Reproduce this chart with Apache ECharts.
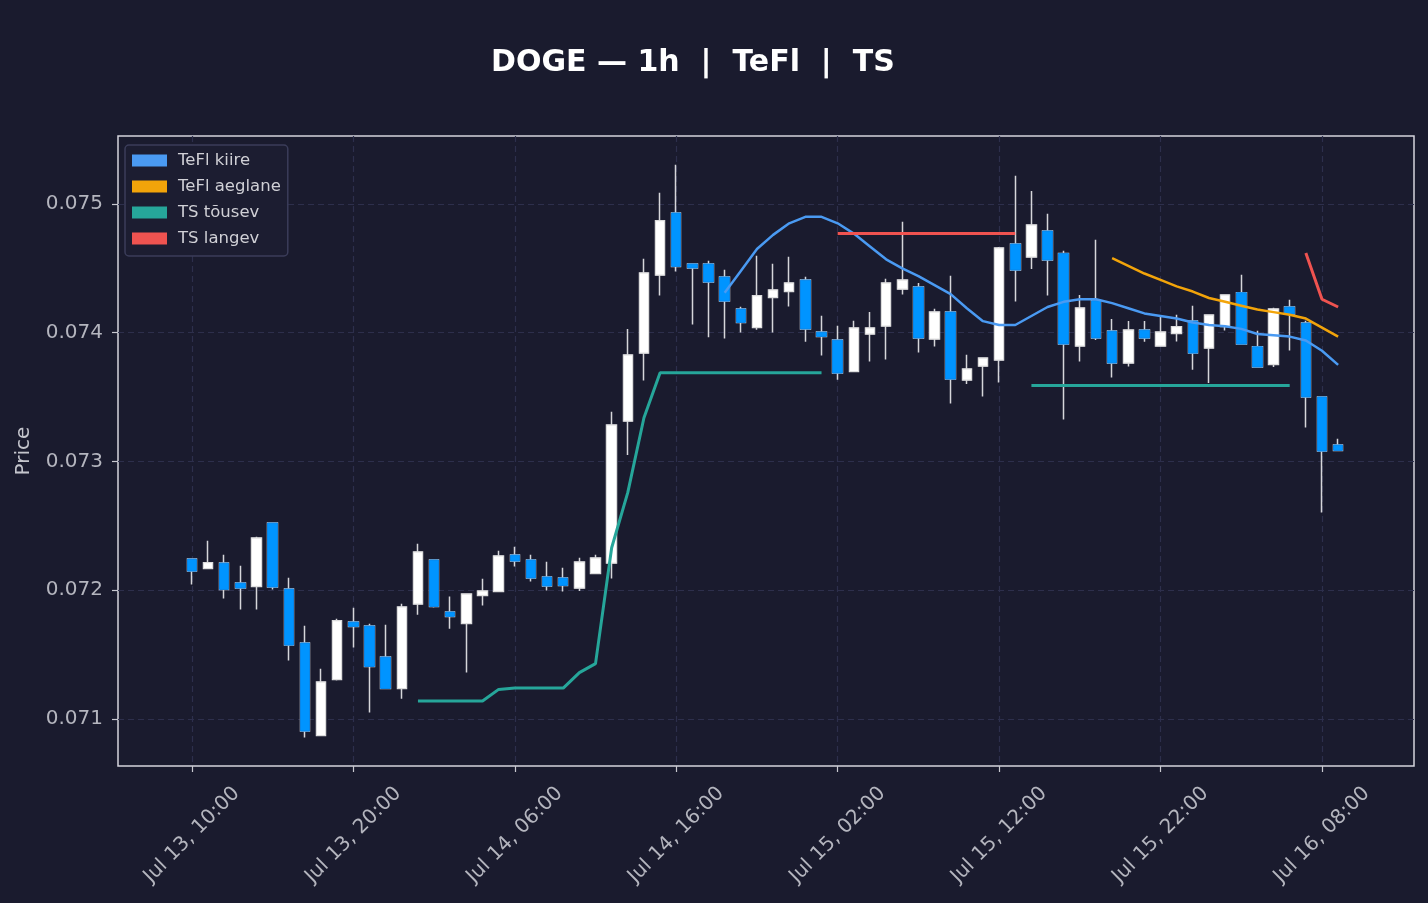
<!DOCTYPE html>
<html>
<head>
<meta charset="utf-8">
<title>DOGE 1h - TeFl / TS</title>
<script src="https://cdn.jsdelivr.net/npm/echarts@6/dist/echarts.min.js"></script>
<style>
  html, body { margin: 0; padding: 0; background: #1a1b2e; }
  #chart { width: 1428px; height: 903px; }
</style>
</head>
<body>
<div id="chart"></div>
<script>
// one candle per hour, hour 0 = Jul 13 10:00
const open = [
  0.072242, 0.072169, 0.072211, 0.072056, 0.072030, 0.072522, 0.072009, 0.071590, 0.070872, 0.071307,
  0.071753, 0.071722, 0.071481, 0.071237, 0.071893, 0.072235, 0.071831, 0.071742, 0.071960, 0.071991,
  0.072273, 0.072235, 0.072103, 0.072095, 0.072017, 0.072130, 0.072211, 0.073314, 0.073842, 0.074448,
  0.074930, 0.074534, 0.074534, 0.074433, 0.074184, 0.074041, 0.074274, 0.074321, 0.074409, 0.074005,
  0.073943, 0.073699, 0.073990, 0.074052, 0.074339, 0.074355, 0.073951, 0.074161, 0.073633, 0.073741,
  0.073788, 0.074689, 0.074588, 0.074790, 0.074616, 0.073897, 0.074249, 0.074013, 0.073765, 0.074021,
  0.073897, 0.073995, 0.074091, 0.073881, 0.074049, 0.074311, 0.073891, 0.073754, 0.074200, 0.074075,
  0.073501, 0.073128
];
const close = [
  0.072149, 0.072214, 0.072006, 0.072017, 0.072405, 0.072025, 0.071574, 0.070906, 0.071287, 0.071763,
  0.071719, 0.071408, 0.071237, 0.071870, 0.072297, 0.071874, 0.071797, 0.071970, 0.071994, 0.072266,
  0.072227, 0.072095, 0.072033, 0.072037, 0.072219, 0.072250, 0.073283, 0.073827, 0.074464, 0.074870,
  0.074515, 0.074503, 0.074394, 0.074246, 0.074080, 0.074287, 0.074332, 0.074386, 0.074029, 0.073971,
  0.073687, 0.074037, 0.074037, 0.074386, 0.074409, 0.073959, 0.074161, 0.073640, 0.073718, 0.073803,
  0.074658, 0.074487, 0.074837, 0.074565, 0.073912, 0.074192, 0.073959, 0.073765, 0.074021, 0.073959,
  0.074005, 0.074047, 0.073842, 0.074137, 0.074293, 0.073912, 0.073734, 0.074184, 0.074145, 0.073501,
  0.073081, 0.073086
];
const low = [
  0.072045, 0.072169, 0.071936, 0.071851, 0.071851, 0.072006, 0.071455, 0.070857, 0.070872, 0.071299,
  0.071556, 0.071051, 0.071237, 0.071157, 0.071810, 0.071866, 0.071701, 0.071362, 0.071882, 0.071991,
  0.072185, 0.072068, 0.071998, 0.071991, 0.071994, 0.072130, 0.072092, 0.073050, 0.073630, 0.074290,
  0.074476, 0.074064, 0.073965, 0.073956, 0.074002, 0.074023, 0.074002, 0.074204, 0.073930, 0.073824,
  0.073635, 0.073699, 0.073777, 0.073793, 0.074297, 0.073847, 0.073894, 0.073451, 0.073602, 0.073505,
  0.073614, 0.074243, 0.074495, 0.074290, 0.073327, 0.073777, 0.073943, 0.073653, 0.073738, 0.073930,
  0.073897, 0.073932, 0.073713, 0.073609, 0.074018, 0.073912, 0.073734, 0.073734, 0.073863, 0.073264,
  0.072604, 0.073086
];
const high = [
  0.072247, 0.072384, 0.072276, 0.072190, 0.072416, 0.072522, 0.072097, 0.071724, 0.071390, 0.071779,
  0.071864, 0.071740, 0.071732, 0.071895, 0.072361, 0.072235, 0.071952, 0.071970, 0.072089, 0.072307,
  0.072338, 0.072276, 0.072221, 0.072175, 0.072252, 0.072276, 0.073386, 0.074029, 0.074575, 0.075087,
  0.075305, 0.074534, 0.074559, 0.074489, 0.074202, 0.074598, 0.074536, 0.074590, 0.074435, 0.074132,
  0.074054, 0.074093, 0.074161, 0.074419, 0.074862, 0.074386, 0.074186, 0.074443, 0.073829, 0.073803,
  0.074666, 0.075219, 0.075101, 0.074924, 0.074637, 0.074293, 0.074722, 0.074106, 0.074091, 0.074091,
  0.074137, 0.074140, 0.074210, 0.074137, 0.074293, 0.074451, 0.074016, 0.074194, 0.074256, 0.074093,
  0.073501, 0.073177
];

// x ticks (hours from Jul 13 10:00) and their labels
const xTickHours = [0, 10, 20, 30, 40, 50, 60, 70];
const xTickLabels = ['Jul 13, 10:00', 'Jul 13, 20:00', 'Jul 14, 06:00', 'Jul 14, 16:00',
  'Jul 15, 02:00', 'Jul 15, 12:00', 'Jul 15, 22:00', 'Jul 16, 08:00'];
const yTicks = [0.071, 0.072, 0.073, 0.074, 0.075];

// TeFl lines
const kiireFrom = 33;
const kiire = [
  0.07431, 0.07448, 0.07465, 0.07476, 0.07485, 0.07490, 0.07490, 0.07485, 0.07477, 0.07467,
  0.07457, 0.07450, 0.07444, 0.07437, 0.07430, 0.07419, 0.07409, 0.07406, 0.07406, 0.07413,
  0.07420, 0.07424, 0.07426, 0.07426, 0.07423, 0.07419, 0.07415, 0.07413, 0.07411, 0.07408,
  0.07406, 0.07405, 0.07403, 0.07399, 0.07398, 0.07397, 0.07394, 0.07386, 0.07375
];
const aeglaneFrom = 57;
const aeglane = [
  0.07458, 0.07452, 0.07446, 0.07441, 0.07436, 0.07432, 0.07427, 0.07424, 0.07421, 0.07418,
  0.07416, 0.07414, 0.07411, 0.07404, 0.07397
];

// TS lines, two pieces each
const tousevAFrom = 14;
const tousevA = [
  0.07114, 0.07114, 0.07114, 0.07114, 0.07114, 0.07123, 0.07124, 0.07124, 0.07124, 0.07124,
  0.07136, 0.07143, 0.07233, 0.07276, 0.07334, 0.07369, 0.07369, 0.07369, 0.07369, 0.07369,
  0.07369, 0.07369, 0.07369, 0.07369, 0.07369, 0.07369
];
const tousevBFrom = 52;
const tousevB = [
  0.07359, 0.07359, 0.07359, 0.07359, 0.07359, 0.07359, 0.07359, 0.07359, 0.07359, 0.07359,
  0.07359, 0.07359, 0.07359, 0.07359, 0.07359, 0.07359, 0.07359
];
const langevAFrom = 40;
const langevA = [
  0.07477, 0.07477, 0.07477, 0.07477, 0.07477, 0.07477, 0.07477, 0.07477, 0.07477, 0.07477,
  0.07477, 0.07477
];
const langevBFrom = 69;
const langevB = [0.07462, 0.07426, 0.07420];

const upColor = '#ffffff';
const upBorder = '#dcdcdc';
const downColor = '#0094ff';
const downBorder = '#0a86e8';
const wickColor = '#d6d6da';
const axisTextColor = '#b4b5be';
const font = 'DejaVu Sans';

function segment(from, values) {
  return values.map((v, i) => [from + i, v]);
}
// join pieces with an empty point so the line breaks
function pieces(...segs) {
  let out = [];
  segs.forEach((s, k) => {
    if (k > 0) out.push([s[0][0] - 0.5, '-']);
    out = out.concat(s);
  });
  return out;
}

const wickData = open.map((o, i) => [i, o, close[i], low[i], high[i]]);
const bodyData = open.map((o, i) => [i, o, close[i], Math.min(o, close[i]), Math.max(o, close[i])]);

function lineSeries(name, color, width, data) {
  return {
    name: name,
    type: 'line',
    data: data,
    symbol: 'none',
    showSymbol: false,
    connectNulls: false,
    color: color,
    lineStyle: { color: color, width: width },
    z: 5
  };
}

const option = {
  backgroundColor: '#1a1b2e',
  animation: false,
  title: {
    text: 'DOGE — 1h  |  TeFl  |  TS',
    left: 486,
    top: 43,
    textStyle: { color: '#ffffff', fontSize: 30, fontWeight: 'bold', fontFamily: font }
  },
  legend: {
    data: ['TeFl kiire', 'TeFl aeglane', 'TS tõusev', 'TS langev'],
    orient: 'vertical',
    left: 125,
    top: 145,
    icon: 'rect',
    itemWidth: 35,
    itemHeight: 12,
    itemGap: 9,
    padding: [7, 7, 9, 7],
    backgroundColor: '#1c1d31',
    borderColor: '#3b3d5a',
    borderWidth: 1.5,
    borderRadius: 4,
    selectedMode: false,
    textStyle: { color: '#d0d0d6', fontSize: 16.5, fontFamily: font, padding: [0, 0, 0, 6] }
  },
  grid: {
    left: 118,
    right: 14,
    top: 136,
    bottom: 137,
    show: true,
    borderColor: '#d5d5dd',
    borderWidth: 1.5,
    backgroundColor: 'transparent'
  },
  xAxis: {
    type: 'value',
    min: -4.58,
    max: 75.7,
    axisLine: { show: false, onZero: false },
    axisTick: {
      show: true,
      customValues: xTickHours,
      length: 6,
      lineStyle: { color: '#c8c8d0', width: 1.2 }
    },
    axisLabel: {
      customValues: xTickHours,
      rotate: 45,
      align: 'center',
      verticalAlign: 'middle',
      margin: 69,
      fontSize: 20,
      fontFamily: font,
      color: axisTextColor,
      formatter: function (v) {
        const k = xTickHours.indexOf(Math.round(v));
        return k >= 0 ? xTickLabels[k] : '';
      }
    },
    splitLine: {
      show: true,
      lineStyle: { color: '#2d2f4c', width: 1.2, type: [6, 4] }
    }
  },
  yAxis: {
    type: 'value',
    min: 0.070635,
    max: 0.075528,
    name: 'Price',
    nameLocation: 'middle',
    nameGap: 84,
    nameTextStyle: { color: '#c4c5cc', fontSize: 20, fontFamily: font },
    axisLine: { show: false, onZero: false },
    axisTick: {
      show: true,
      customValues: yTicks,
      length: 6,
      lineStyle: { color: '#c8c8d0', width: 1.2 }
    },
    axisLabel: {
      customValues: yTicks,
      margin: 15,
      fontSize: 20,
      fontFamily: font,
      color: axisTextColor,
      formatter: function (v) { return v.toFixed(3); }
    },
    splitLine: {
      show: true,
      lineStyle: { color: '#2d2f4c', width: 1.2, type: [6, 4] }
    }
  },
  series: [
    {
      name: 'wicks',
      type: 'candlestick',
      data: wickData,
      encode: { x: 0, y: [1, 2, 3, 4] },
      barWidth: 10,
      itemStyle: {
        color: wickColor, color0: wickColor,
        borderColor: wickColor, borderColor0: wickColor,
        borderWidth: 1.5
      },
      z: 2
    },
    {
      name: 'bodies',
      type: 'candlestick',
      data: bodyData,
      encode: { x: 0, y: [1, 2, 3, 4] },
      barWidth: 10,
      itemStyle: {
        color: upColor, color0: downColor,
        borderColor: upBorder, borderColor0: downBorder,
        borderWidth: 1
      },
      z: 3
    },
    lineSeries('TeFl kiire', '#4a9af2', 2.5, segment(kiireFrom, kiire)),
    lineSeries('TeFl aeglane', '#f2a40a', 2.5, segment(aeglaneFrom, aeglane)),
    lineSeries('TS tõusev', '#26a69a', 3, pieces(segment(tousevAFrom, tousevA), segment(tousevBFrom, tousevB))),
    lineSeries('TS langev', '#ef5350', 3, pieces(segment(langevAFrom, langevA), segment(langevBFrom, langevB)))
  ]
};

const chart = echarts.init(document.getElementById('chart'));
chart.setOption(option);
window.addEventListener('resize', () => {
  chart.resize();
});
</script>
</body>
</html>
